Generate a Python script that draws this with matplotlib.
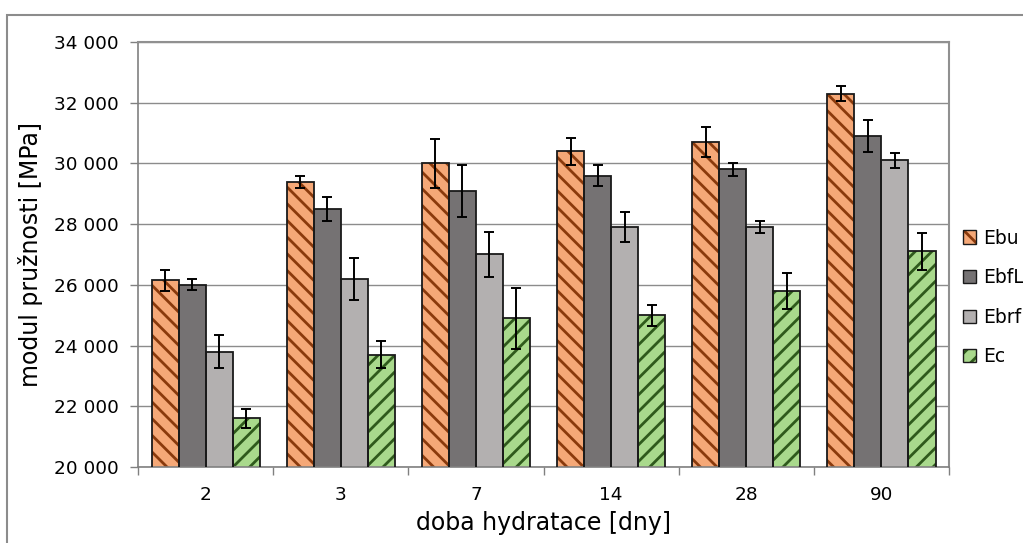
import numpy as np
import matplotlib
matplotlib.use('Agg')
import matplotlib.pyplot as plt
from matplotlib.patches import Patch, Rectangle
from matplotlib.ticker import FuncFormatter, FixedLocator
from matplotlib.legend_handler import HandlerTuple

# modul pruznosti podle doby hydratace
days = ['2', '3', '7', '14', '28', '90']
series = ['Ebu', 'EbfL', 'Ebrf', 'Ec']

ebu = [26150, 29400, 30000, 30400, 30700, 32300]
ebu_err = [350, 200, 800, 450, 500, 250]
ebfl = [26000, 28500, 29100, 29600, 29800, 30900]
ebfl_err = [180, 400, 850, 350, 200, 520]
ebrf = [23800, 26200, 27000, 27900, 27900, 30100]
ebrf_err = [550, 700, 750, 500, 200, 250]
ec = [21600, 23700, 24900, 25000, 25800, 27100]
ec_err = [300, 450, 1000, 350, 600, 600]

values = [ebu, ebfl, ebrf, ec]
errors = [ebu_err, ebfl_err, ebrf_err, ec_err]
faces = ['#f5a877', '#757273', '#b3b0b0', '#a9d98c']
hatches = ['\\\\', None, None, '//']
hatch_cols = ['#8a3a0c', '#757273', '#b3b0b0', '#2f5a1c']

plt.rcParams['font.family'] = 'DejaVu Sans'
plt.rcParams['hatch.linewidth'] = 2.0

fig = plt.figure(figsize=(10.23, 5.43), dpi=100)
ax = fig.add_axes([0.1349, 0.14, 0.7928, 0.7827])

x = np.arange(len(days))
w = 0.2
handles = []
for i, name in enumerate(series):
    pos = x + (i - 1.5) * w
    # fill + hatch in hatch colour, then black outline on top
    ax.bar(pos, values[i], w, bottom=0, color=faces[i], hatch=hatches[i],
           edgecolor=hatch_cols[i], linewidth=0, zorder=2)
    ax.bar(pos, values[i], w, fill=False, edgecolor='#1a1a1a',
           linewidth=1.3, zorder=3)
    ax.errorbar(pos, values[i], yerr=errors[i], fmt='none', ecolor='black',
                elinewidth=1.4, capsize=3.5, capthick=1.4, zorder=4)
    handles.append((Patch(facecolor=faces[i], hatch=hatches[i],
                          edgecolor=hatch_cols[i], linewidth=0),
                    Patch(fill=False, edgecolor='#1a1a1a', linewidth=1.0)))

ax.set_xlim(-0.5, len(days) - 0.5)
ax.set_ylim(20000, 34000)
ax.set_yticks(np.arange(20000, 34001, 2000))
ax.yaxis.set_major_formatter(FuncFormatter(lambda v, p: '{:,.0f}'.format(v).replace(',', ' ')))
ax.yaxis.grid(True, color='#8c8c8c', linewidth=1.0, zorder=0)
ax.set_axisbelow(True)

ax.set_xticks(x)
ax.set_xticklabels(days)
ax.tick_params(axis='x', length=0, labelsize=13.3, pad=14)
ax.xaxis.set_minor_locator(FixedLocator(np.arange(-0.5, len(days), 1.0)))
ax.tick_params(axis='x', which='minor', length=6, width=1, color='#808080')
ax.tick_params(axis='y', length=6, width=1, color='#808080', labelsize=13.3, pad=8)

for s in ['left', 'bottom']:
    ax.spines[s].set_color('#808080')
    ax.spines[s].set_linewidth(1.2)
for s in ['top', 'right']:
    ax.spines[s].set_color('#909090')
    ax.spines[s].set_linewidth(1.5)

ax.set_ylabel('modul pružnosti [MPa]', fontsize=17, labelpad=8)
ax.set_xlabel('doba hydratace [dny]', fontsize=17, labelpad=5)

leg = fig.legend(handles, series, handler_map={tuple: HandlerTuple(ndivide=1, pad=0)},
                 loc='upper left', bbox_to_anchor=(0.934, 0.593), frameon=False,
                 fontsize=13.5, handlelength=0.7, handleheight=0.7,
                 handletextpad=0.35, labelspacing=1.1, borderaxespad=0)

# chart area frame
fig.patches.append(Rectangle((7 / 1023, -0.1), 1.2, 1 - 15 / 543 + 0.1,
                             transform=fig.transFigure, fill=False,
                             edgecolor='#8c8c8c', linewidth=1.5))

fig.savefig('out.png', dpi=100)
